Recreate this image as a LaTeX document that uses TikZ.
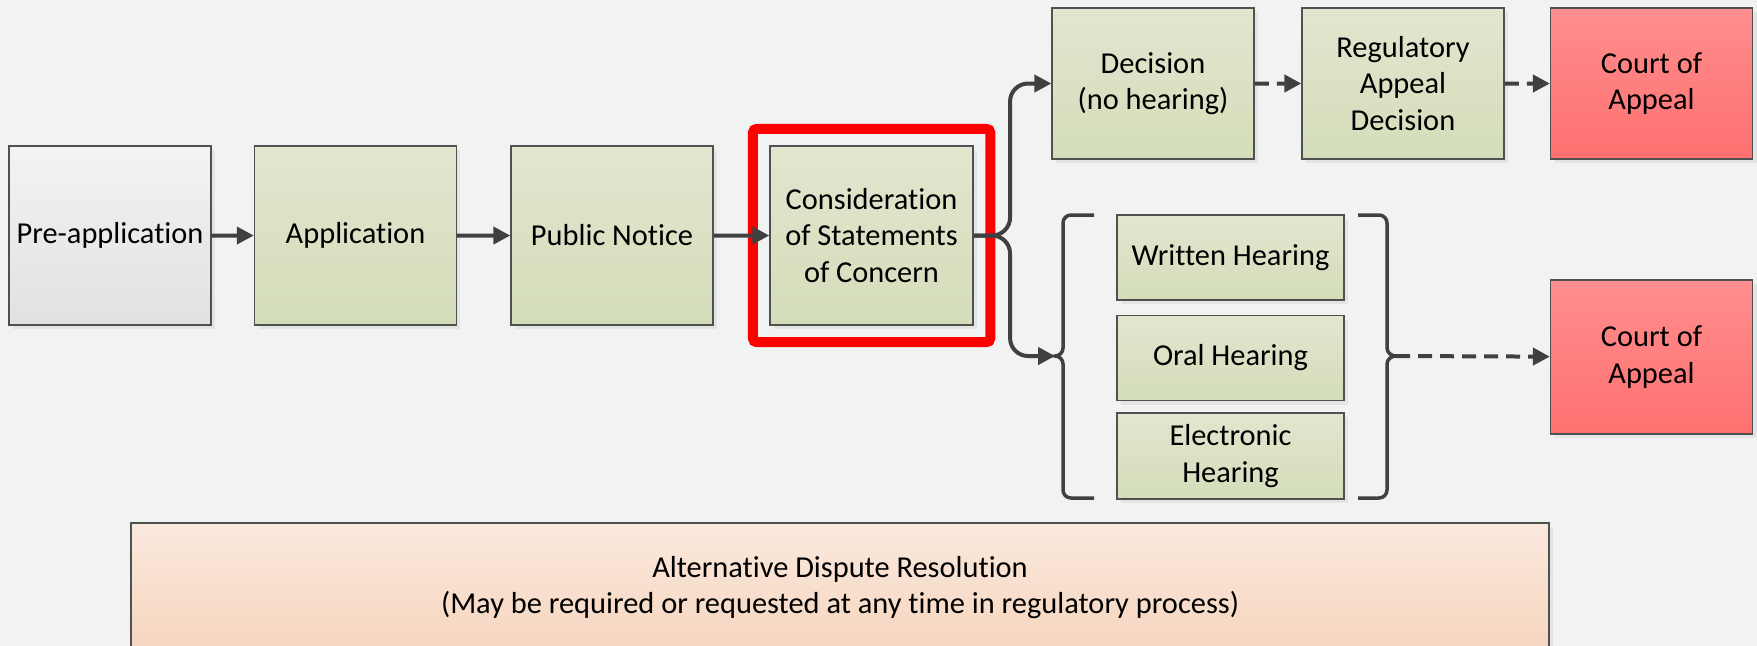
\documentclass[tikz,border=0pt]{standalone}
\usepackage{fontspec}
\setmainfont{Carlito}[Ligatures=NoCommon]
\usetikzlibrary{arrows.meta,shadows,fit}
\definecolor{bgcol}{RGB}{241,243,242}
\definecolor{linecol}{RGB}{64,64,64}
\definecolor{edgecol}{RGB}{80,80,80}
\definecolor{greentop}{RGB}{225,230,206}
\definecolor{greenbot}{RGB}{212,221,186}
\definecolor{graytop}{RGB}{243,243,243}
\definecolor{graybot}{RGB}{225,225,225}
\definecolor{redtop}{RGB}{255,142,142}
\definecolor{redbot}{RGB}{255,112,112}
\definecolor{peachtop}{RGB}{250,233,221}
\definecolor{peachbot}{RGB}{246,213,190}

\begin{document}
\begin{tikzpicture}[scale=0.1]
\tikzstyle{every node}+=[inner sep=0pt, font=\fontsize{8.65}{10.4}\selectfont, align=center]
\tikzstyle{box}=[draw=edgecol, line width=0.4pt, minimum width=2.02cm, minimum height=1.79cm, top color=greentop, bottom color=greenbot, drop shadow={shadow xshift=0.04cm, shadow yshift=-0.04cm, opacity=0.12}]
\tikzstyle{grey box}=[box, top color=graytop, bottom color=graybot]
\tikzstyle{court box}=[box, top color=redtop, bottom color=redbot, minimum height=1.53cm]
\tikzstyle{hearing}=[box, minimum width=2.27cm, minimum height=0.85cm]
\tikzstyle{flow}=[draw=linecol, line width=0.04cm, -{Triangle[length=0.17cm, width=0.17cm]}]
\tikzstyle{dflow}=[flow, dash pattern=on 0.14cm off 0.08cm]
\tikzstyle{brk}=[draw=linecol, line width=0.035cm]
\fill [bgcol] (0,0) rectangle (175.7,-64.6);
\useasboundingbox (0,0) rectangle (175.7,-64.6);
\node [grey box] (pre) at (11.0,-23.55) {Pre-application};
\node [box] (app) at (35.55,-23.55) {Application};
\node [box] (notice) at (61.2,-23.55) {Public Notice};
\node [box, minimum width=2.03cm] (concern) at (87.15,-23.55) {Consideration\\of Statements\\of Concern};
\node [draw=red, line width=0.1cm, rounded corners=0.04cm, inner sep=0.165cm, fit=(concern)] (focus) {};
\node [box, minimum height=1.51cm] (dec) at (115.3,-8.35) {Decision\\(no hearing)};
\node [box, minimum height=1.51cm] (reg) at (140.3,-8.35) {Regulatory\\Appeal\\Decision};
\node [court box, minimum height=1.51cm] (court1) at (165.15,-8.35) {Court of\\Appeal};
\node [hearing] (written) at (123.05,-25.75) {Written Hearing};
\node [hearing] (oral) at (123.05,-35.8) {Oral Hearing};
\node [hearing, minimum height=0.86cm] (elec) at (123.05,-45.6) {Electronic\\Hearing};
\node [court box, minimum height=1.54cm] (court2) at (165.15,-35.7) {Court of\\Appeal};
\node [box, top color=peachtop, bottom color=peachbot, minimum width=14.18cm, minimum height=1.29cm] (adr) at (84.0,-58.75) {Alternative Dispute Resolution\\(May be required or requested at any time in regulatory process)};
\coordinate (fork) at (101.0,-23.55);
\coordinate (brl) at (105.5,-35.6);
\coordinate (brr) at (139.6,-35.6);
\draw [flow] (pre) -- (app);
\draw [flow] (app) -- (notice);
\draw [flow] (notice) -- (concern);
\draw [flow, rounded corners=0.18cm] (concern.east) -- (fork) |- (dec.west);
\draw [flow, rounded corners=0.18cm] (concern.east) -- (fork) |- (brl);
\draw [dflow] (dec) -- (reg);
\draw [dflow] (reg) -- (court1);
\draw [brk] (109.4,-21.5) -- (107.1,-21.5) to[out=180,in=90] (106.3,-22.3) -- (106.3,-34.8) to[out=-90,in=0] (brl) to[out=0,in=90] (106.3,-36.4) -- (106.3,-49.0) to[out=-90,in=180] (107.1,-49.8) -- (109.4,-49.8);
\draw [brk] (135.8,-21.5) -- (137.9,-21.5) to[out=0,in=90] (138.7,-22.3) -- (138.7,-34.8) to[out=-90,in=180] (brr) to[out=180,in=90] (138.7,-36.4) -- (138.7,-49.0) to[out=-90,in=0] (137.9,-49.8) -- (135.8,-49.8);
\draw [dflow] (brr) -- (court2);
\end{tikzpicture}
\end{document}
